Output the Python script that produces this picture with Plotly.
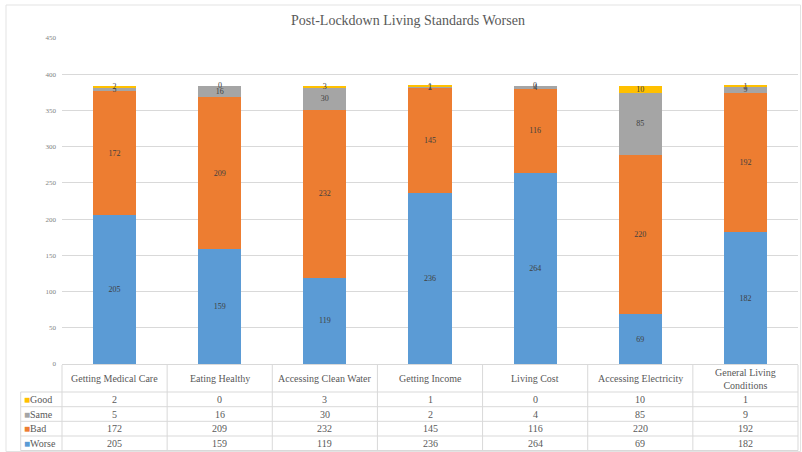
import plotly.graph_objects as go

# Survey results: how living standards changed after lockdown
categories = [
    "Getting Medical Care", "Eating Healthy", "Accessing Clean Water",
    "Getting Income", "Living Cost", "Accessing Electricity",
    "General Living Conditions",
]
header_labels = [
    "Getting Medical Care", "Eating Healthy", "Accessing Clean Water",
    "Getting Income", "Living Cost", "Accessing Electricity",
    "General Living<br>Conditions",
]
worse = [205, 159, 119, 236, 264, 69, 182]
bad = [172, 209, 232, 145, 116, 220, 192]
same = [5, 16, 30, 2, 4, 85, 9]
good = [2, 0, 3, 1, 0, 10, 1]
y_ticks = [0, 50, 100, 150, 200, 250, 300, 350, 400, 450]

series = [
    ("Worse", worse, "#5B9BD5"),
    ("Bad", bad, "#ED7D31"),
    ("Same", same, "#A5A5A5"),
    ("Good", good, "#FFC000"),
]

W, H = 802, 452
ML, MR, MT, MB = 62, 4, 38, 88
PW, PH = W - ML - MR, H - MT - MB
FONT = "Liberation Serif"
GREY = "#595959"
LINE = "#d9d9d9"
LABEL_FONT = dict(family=FONT, size=8, color="#404040")
TABLE_FONT = dict(family=FONT, size=10, color=GREY)


def py(y_px):
    """Pixel row -> paper y."""
    return (H - MB - y_px) / PH


def px(x_px):
    """Pixel column -> paper x."""
    return (x_px - ML) / PW


fig = go.Figure()
for name, vals, color in series:
    fig.add_trace(go.Bar(
        name=name, x=categories, y=vals, marker_color=color,
        marker_line_width=0,
        text=vals, texttemplate="%{text}", textposition="inside",
        insidetextanchor="middle", textangle=0,
        textfont=LABEL_FONT,
        constraintext="none", cliponaxis=False,
    ))

annotations = []
# zero-height segments still carry a value label at the top of their stack
base = [0] * len(categories)
for name, vals, color in series:
    for i, (cat, v) in enumerate(zip(categories, vals)):
        if v == 0:
            annotations.append(dict(x=cat, xref="x", y=base[i], yref="y",
                                    text=str(v), showarrow=False,
                                    xanchor="center", yanchor="middle",
                                    font=LABEL_FONT))
        base[i] += v

shapes = []
n = len(categories)
# outer chart border
shapes.append(dict(type="rect", xref="paper", yref="paper",
                   x0=px(6), x1=px(800.5), y0=py(451.5), y1=py(5),
                   line=dict(color="#e3e3e3", width=1), layer="below"))

# data table grid beneath the axis
row_lines = [392, 406.7, 421.3, 436, 450.5]
left_col = px(20.7)
for yl in row_lines:
    shapes.append(dict(type="line", xref="paper", yref="paper",
                       x0=left_col, x1=1, y0=py(yl), y1=py(yl),
                       line=dict(color=LINE, width=1)))
for k in range(n + 1):
    xk = k / n
    shapes.append(dict(type="line", xref="paper", yref="paper",
                       x0=xk, x1=xk, y0=py(365), y1=py(450.5),
                       line=dict(color=LINE, width=1)))
shapes.append(dict(type="line", xref="paper", yref="paper",
                   x0=left_col, x1=left_col, y0=py(392), y1=py(450.5),
                   line=dict(color=LINE, width=1)))

# column headers
for cat, lab in zip(categories, header_labels):
    annotations.append(dict(x=cat, xref="x", y=py(378.5), yref="paper",
                            text=lab, showarrow=False, font=TABLE_FONT,
                            xanchor="center", yanchor="middle"))

# table rows, top to bottom: Good, Same, Bad, Worse
row_centers = [399.3, 414, 428.7, 443.3]
for (name, vals, color), yc in zip(series[::-1], row_centers):
    annotations.append(dict(
        x=left_col, xref="paper", y=py(yc), yref="paper",
        text=f"<span style='color:{color}'>■</span>{name}",
        showarrow=False, xanchor="left", yanchor="middle", xshift=1,
        font=TABLE_FONT))
    for cat, v in zip(categories, vals):
        annotations.append(dict(x=cat, xref="x", y=py(yc), yref="paper",
                                text=str(v), showarrow=False,
                                xanchor="center", yanchor="middle",
                                font=TABLE_FONT))

fig.update_layout(
    width=W, height=H,
    margin=dict(l=ML, r=MR, t=MT, b=MB),
    paper_bgcolor="white", plot_bgcolor="white",
    barmode="stack", bargap=0.59,
    showlegend=False,
    uniformtext=dict(minsize=8, mode="show"),
    title=dict(text="Post-Lockdown Living Standards Worsen",
               xref="container", x=408 / W, xanchor="center",
               y=1 - 20 / H, yanchor="middle",
               font=dict(family=FONT, size=14, color=GREY)),
    xaxis=dict(range=[-0.5, n - 0.5], showticklabels=False, ticks="",
               showgrid=False, showline=True, linecolor=LINE, linewidth=1,
               zeroline=False),
    yaxis=dict(range=[0, 450], tickvals=y_ticks, showgrid=True,
               gridcolor=LINE, gridwidth=1, zeroline=False, showline=False,
               ticks="", ticklabelstandoff=5,
               tickfont=dict(family=FONT, size=7, color="#7f7f7f")),
    shapes=shapes,
    annotations=annotations,
)

fig.write_html("out.html")
